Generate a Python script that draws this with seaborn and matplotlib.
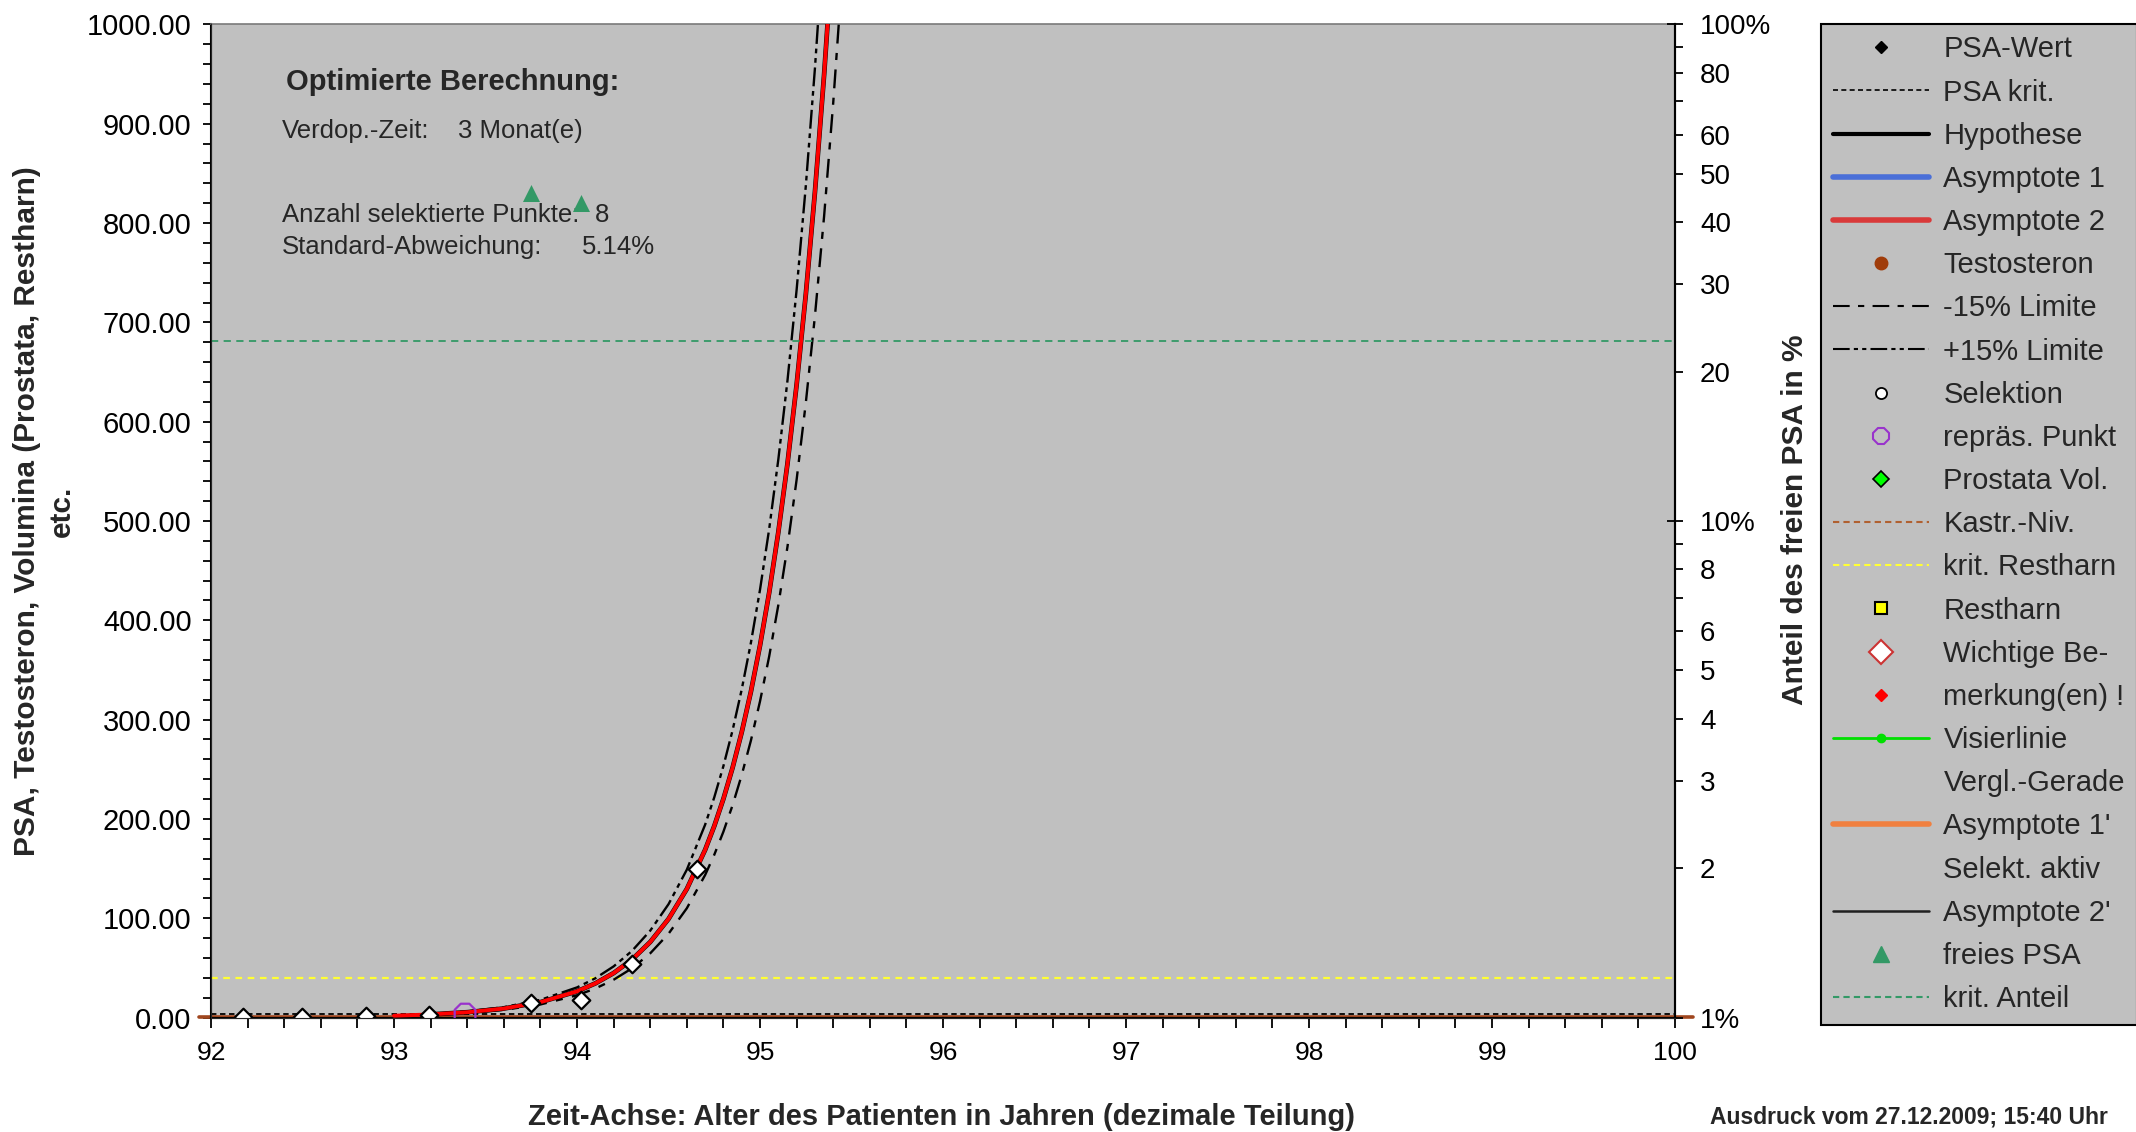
import matplotlib
matplotlib.use("Agg")
import matplotlib.pyplot as plt
from matplotlib.lines import Line2D
from matplotlib.ticker import FixedLocator, FixedFormatter, MultipleLocator, FormatStrFormatter
import pandas as pd
import seaborn as sns

# --- data -----------------------------------------------------------------
# selected PSA measurements: patient age (decimal years) and PSA value
sel_years = [92.175, 92.499, 92.848, 93.189, 93.749, 94.019, 94.303, 94.654]
sel_psa = [0.3, 0.4, 2.0, 2.3, 14.4, 17.8, 53.7, 149.5]

# representative point
rep_years = [93.388]
rep_psa = [3.5]

# free PSA share (right axis, %)
free_years = [93.749, 94.019]
free_pct = [45.7, 43.6]

# optimised exponential fit (doubling time about 3 months)
fit_years = [93.0, 93.2, 93.4, 93.6, 93.8, 94.0, 94.1, 94.2, 94.3, 94.4, 94.5,
             94.6, 94.7, 94.75, 94.8, 94.85, 94.9, 94.95, 95.0, 95.05, 95.1,
             95.15, 95.2, 95.25, 95.3, 95.35, 95.4, 95.45]
fit_psa = [1.85, 3.15, 5.36, 9.10, 15.5, 26.4, 34.4, 44.8, 58.3, 76.1, 99.3,
           129.5, 168.9, 192.9, 220.3, 251.6, 287.4, 328.1, 374.8, 427.9, 488.8,
           557.9, 637.4, 728.0, 831.3, 949.2, 1084.1, 1238.2]
limit_pct = 15

# reference levels
psa_crit = 4.0
castr_level = 0.5
crit_residual = 40.0
crit_free_pct = 23.0

# axis ticks
x_ticks = [92, 93, 94, 95, 96, 97, 98, 99, 100]
right_major = [1, 10, 100]
right_major_labels = ["1%", "10%", "100%"]
right_minor = [2, 3, 4, 5, 6, 7, 8, 9, 20, 30, 40, 50, 60, 70, 80, 90]
right_minor_labels = ["2", "3", "4", "5", "6", "", "8", "", "20", "30", "40",
                      "50", "60", "", "80", ""]

legend_labels = ["PSA-Wert", "PSA krit.", "Hypothese", "Asymptote 1",
                 "Asymptote 2", "Testosteron", "-15% Limite", "+15% Limite",
                 "Selektion", "repräs. Punkt", "Prostata Vol.", "Kastr.-Niv.",
                 "krit. Restharn", "Restharn", "Wichtige Be-", "merkung(en) !",
                 "Visierlinie", "Vergl.-Gerade", "Asymptote 1'", "Selekt. aktiv",
                 "Asymptote 2'", "freies PSA", "krit. Anteil"]

# --- figure ---------------------------------------------------------------
sns.set_style("ticks")
plt.rcParams["font.family"] = ["Liberation Sans", "DejaVu Sans"]

fit = pd.DataFrame({"year": fit_years, "psa": fit_psa})
fit["upper"] = fit["psa"] * (1 + limit_pct / 100)
fit["lower"] = fit["psa"] * (1 - limit_pct / 100)
sel = pd.DataFrame({"year": sel_years, "psa": sel_psa})

fig = plt.figure(figsize=(21.36, 11.32), dpi=100)
ax = fig.add_axes([0.0988, 0.1011, 0.6854, 0.8773])
ax.set_facecolor("#C0C0C0")

# reference lines
ax.axhline(crit_residual, color="#FFFF33", lw=1.6, ls=(0, (3, 2.5)), zorder=2)
ax.axhline(psa_crit, color="black", lw=1.3, ls=(0, (3, 2)), zorder=2)
ax.axhline(castr_level, xmin=-0.008, xmax=1.012, color="#A0461E", lw=2.6,
           clip_on=False, zorder=2)

# fitted curve with +/-15% limits
sns.lineplot(data=fit, x="year", y="upper", ax=ax, color="black", lw=1.7,
             linestyle=(0, (8, 2, 2, 2, 2, 2)), zorder=3)
sns.lineplot(data=fit, x="year", y="lower", ax=ax, color="black", lw=1.7,
             linestyle=(0, (8, 4, 3, 4)), zorder=3)
sns.lineplot(x=fit_years[1:], y=fit_psa[1:], ax=ax, color="black", lw=3.4, zorder=4)
sns.lineplot(data=fit, x="year", y="psa", ax=ax, color="#FF0000", lw=2.8, zorder=5)

# measurement points
sns.scatterplot(data=sel, x="year", y="psa", ax=ax, marker="D", s=40,
                color="black", linewidth=0, zorder=6)
sns.scatterplot(data=sel, x="year", y="psa", ax=ax, marker="D", s=80,
                color="white", edgecolor="black", linewidth=1.6, zorder=7)
sns.scatterplot(x=rep_years, y=rep_psa, ax=ax, marker="8", s=260,
                facecolor="none", edgecolor="#9933CC", linewidth=1.6, zorder=8)

ax.set_xlim(92, 100)
ax.set_ylim(0, 1000)
ax.set_xlabel("")
ax.set_ylabel("")
ax.xaxis.set_major_locator(FixedLocator(x_ticks))
ax.xaxis.set_minor_locator(MultipleLocator(0.2))
ax.yaxis.set_major_locator(MultipleLocator(100))
ax.yaxis.set_minor_locator(MultipleLocator(20))
ax.yaxis.set_major_formatter(FormatStrFormatter("%.2f"))
ax.tick_params(axis="x", which="both", direction="out", length=7, width=1.3,
               pad=10, labelsize=19, colors="black")
ax.tick_params(axis="y", which="both", direction="out", length=5.5, width=1.3,
               pad=8.5, labelsize=21, colors="black", right=False)
for side in ["left", "bottom", "right"]:
    ax.spines[side].set_color("black")
    ax.spines[side].set_linewidth(1.5)
ax.spines["top"].set_color("#7A7A7A")
ax.spines["top"].set_linewidth(1.2)

# right axis: free PSA share
ax2 = ax.twinx()
ax2.set_yscale("log")
ax2.set_ylim(1, 100)
ax2.axhline(crit_free_pct, color="#339966", lw=1.3, ls=(0, (4, 3)), zorder=2)
sns.scatterplot(x=free_years, y=free_pct, ax=ax2, marker="^", s=150,
                color="#339966", linewidth=0, zorder=3)
ax2.yaxis.set_major_locator(FixedLocator(right_major))
ax2.yaxis.set_major_formatter(FixedFormatter(right_major_labels))
ax2.yaxis.set_minor_locator(FixedLocator(right_minor))
ax2.yaxis.set_minor_formatter(FixedFormatter(right_minor_labels))
ax2.tick_params(axis="y", which="major", direction="inout", length=12, width=1.3,
                pad=12, labelsize=20, colors="black")
ax2.tick_params(axis="y", which="minor", direction="out", length=6, width=1.3,
                pad=12, labelsize=20, colors="black")
ax2.set_ylabel("")
ax2.spines["right"].set_color("black")
ax2.spines["right"].set_linewidth(1.5)
ax2.spines["top"].set_visible(False)

# calculation summary
ax.text(0.0512, 0.942, "Optimierte Berechnung:", transform=ax.transAxes,
        fontsize=21, fontweight="bold", va="center", ha="left")
ax.text(0.0484, 0.893, "Verdop.-Zeit:", transform=ax.transAxes,
        fontsize=18.5, va="center", ha="left")
ax.text(0.169, 0.893, "3 Monat(e)", transform=ax.transAxes,
        fontsize=18.5, va="center", ha="left")
ax.text(0.0484, 0.808, "Anzahl selektierte Punkte:", transform=ax.transAxes,
        fontsize=18.5, va="center", ha="left")
ax.text(0.262, 0.808, "8", transform=ax.transAxes,
        fontsize=18.5, va="center", ha="left")
ax.text(0.0484, 0.776, "Standard-Abweichung:", transform=ax.transAxes,
        fontsize=18.5, va="center", ha="left")
ax.text(0.253, 0.776, "5.14%", transform=ax.transAxes,
        fontsize=18.5, va="center", ha="left")

# axis titles
fig.text(0.0128, 0.5486, "PSA, Testosteron, Volumina (Prostata, Restharn)",
         rotation=90, fontsize=21.5, fontweight="bold", ha="center", va="center")
fig.text(0.0292, 0.5486, "etc.", rotation=90, fontsize=21.5, fontweight="bold",
         ha="center", va="center")
fig.text(0.8404, 0.541, "Anteil des freien PSA in %", rotation=90, fontsize=21.5,
         fontweight="bold", ha="center", va="center")
fig.text(0.441, 0.0133, "Zeit-Achse: Alter des Patienten in Jahren (dezimale Teilung)",
         fontsize=21, fontweight="bold", ha="center", va="center")
fig.text(0.8937, 0.0133, "Ausdruck vom 27.12.2009; 15:40 Uhr",
         fontsize=16.5, fontweight="bold", ha="center", va="center")

# legend
def mk(**kw):
    return Line2D([], [], **kw)

handles = [
    mk(marker="D", color="black", ls="none", ms=6),
    mk(color="black", ls=(0, (3, 2)), lw=1.2),
    mk(color="black", lw=3),
    mk(color="#4A6FD8", lw=4),
    mk(color="#D93A3A", lw=4),
    mk(marker="o", color="#A03C0A", ls="none", ms=9),
    mk(color="black", ls=(0, (8, 4, 3, 4)), lw=1.5),
    mk(color="black", ls=(0, (8, 2, 2, 2, 2, 2)), lw=1.5),
    mk(marker="o", mfc="white", mec="black", ls="none", ms=8, mew=1.3),
    mk(marker="8", mfc="none", mec="#9933CC", ls="none", ms=12, mew=1.5),
    mk(marker="D", mfc="#00FF00", mec="black", ls="none", ms=8, mew=1.2),
    mk(color="#B06030", ls=(0, (3, 2)), lw=1.5),
    mk(color="#FFFF33", ls=(0, (3, 2)), lw=1.5),
    mk(marker="s", mfc="#FFFF00", mec="black", ls="none", ms=9, mew=1.5),
    mk(marker="D", mfc="white", mec="#CC3333", ls="none", ms=12, mew=1.5),
    mk(marker="D", color="#FF0000", ls="none", ms=6),
    mk(color="#00E000", lw=2, marker="o", ms=6),
    mk(ls="none"),
    mk(color="#F08040", lw=4),
    mk(ls="none"),
    mk(color="#202020", lw=1.8),
    mk(marker="^", color="#339966", ls="none", ms=12),
    mk(color="#339966", ls=(0, (3, 2)), lw=1.5),
]
leg = fig.legend(handles=handles, labels=legend_labels, loc="upper left",
                 bbox_to_anchor=(0.8525, 0.979), frameon=True, fancybox=False,
                 edgecolor="black", facecolor="#C0C0C0", framealpha=1,
                 fontsize=21, handlelength=3.3, handletextpad=0.5,
                 labelspacing=0.52, borderpad=0.4, borderaxespad=0)
leg.get_frame().set_linewidth(1.5)

fig.savefig("out.png", dpi=100)
